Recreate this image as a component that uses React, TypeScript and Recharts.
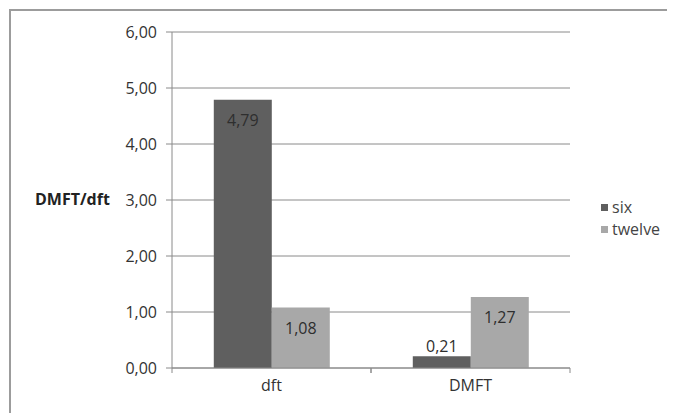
import React from 'react';
import { BarChart, Bar, XAxis, YAxis, CartesianGrid, LabelList } from 'recharts';

const categories = ['dft', 'DMFT'];
const sixValues = [4.79, 0.21];
const twelveValues = [1.08, 1.27];
const yTicks = [0, 1, 2, 3, 4, 5, 6];

const seriesKeys = ['six', 'twelve'] as const;
const seriesNames = { six: 'six', twelve: 'twelve' };
const colors = { six: '#5f5f5f', twelve: '#a8a8a8' };

const data = categories.map((name, i) => ({
  name,
  six: sixValues[i],
  twelve: twelveValues[i],
}));

const FONT = '"Open Sans", sans-serif';
const CHART_W = 667;
const CHART_H = 405;
const MARGIN = { top: 24, right: 105, bottom: 15, left: 0 };
const Y_AXIS_W = 164;
const PLOT_W = CHART_W - MARGIN.left - MARGIN.right - Y_AXIS_W;

const fmt = (v: number) => v.toFixed(2).replace('.', ',');

// Value label: inside the top of the bar, or above it when the bar is too short.
const BarValueLabel = (props: any) => {
  const { x, y, width, height, value } = props;
  const cx = x + width / 2;
  const inside = height > 28;
  const ty = inside ? y + 26 : y - 4;
  return (
    <text x={cx} y={ty} textAnchor="middle" fontFamily={FONT} fontSize={16} fill="#2e2e2e">
      {fmt(value)}
    </text>
  );
};

// Category tick: label centered, with tick marks at the category boundaries.
const CategoryTick = (props: any) => {
  const { x, y, payload } = props;
  const half = PLOT_W / categories.length / 2;
  return (
    <g>
      <line x1={x - half} y1={y - 8} x2={x - half} y2={y - 3} stroke="#8a8a8a" />
      <line x1={x + half} y1={y - 8} x2={x + half} y2={y - 3} stroke="#8a8a8a" />
      <text x={x} y={y + 15} textAnchor="middle" fontFamily={FONT} fontSize={16} fill="#333">
        {payload.value}
      </text>
    </g>
  );
};

const SeriesLegend = () => (
  <div
    style={{
      position: 'absolute',
      left: 593,
      top: 188,
      fontFamily: FONT,
      fontSize: 16,
      color: '#444',
    }}
  >
    {seriesKeys.map((k) => (
      <div key={k} style={{ display: 'flex', alignItems: 'center', height: 22 }}>
        <span style={{ display: 'inline-block', width: 7, height: 7, background: colors[k], marginRight: 4 }} />
        <span>{seriesNames[k]}</span>
      </div>
    ))}
  </div>
);

export default function App() {
  return (
    <div style={{ position: 'relative', width: CHART_W, height: CHART_H }}>
      <div
        style={{
          position: 'absolute',
          left: 1,
          top: 1,
          width: 700,
          height: 500,
          borderLeft: '2px solid #9c9c9c',
          borderTop: '2px solid #9c9c9c',
          boxSizing: 'border-box',
        }}
      />
      <BarChart
        width={CHART_W}
        height={CHART_H}
        data={data}
        margin={MARGIN}
        barCategoryGap="21%"
        barGap={0}
      >
        <CartesianGrid vertical={false} stroke="#8a8a8a" strokeWidth={1} />
        <XAxis
          dataKey="name"
          axisLine={{ stroke: '#8a8a8a' }}
          tickLine={false}
          tick={<CategoryTick />}
          interval={0}
        />
        <YAxis
          width={Y_AXIS_W}
          domain={[0, 6]}
          ticks={yTicks}
          tickFormatter={fmt}
          axisLine={{ stroke: '#8a8a8a' }}
          tickLine={{ stroke: '#8a8a8a' }}
          tickSize={6}
          tickMargin={9}
          tick={{ fontFamily: FONT, fontSize: 16, fill: '#333' }}
          label={(p: any) => (
            <text
              x={27}
              y={p.viewBox.y + p.viewBox.height / 2 + 5}
              fontFamily={FONT}
              fontSize={16}
              fontWeight="bold"
              fill="#222"
            >
              DMFT/dft
            </text>
          )}
        />
        <Bar dataKey="six" fill={colors.six} isAnimationActive={false}>
          <LabelList dataKey="six" content={<BarValueLabel />} />
        </Bar>
        <Bar dataKey="twelve" fill={colors.twelve} isAnimationActive={false}>
          <LabelList dataKey="twelve" content={<BarValueLabel />} />
        </Bar>
      </BarChart>
      <SeriesLegend />
    </div>
  );
}
